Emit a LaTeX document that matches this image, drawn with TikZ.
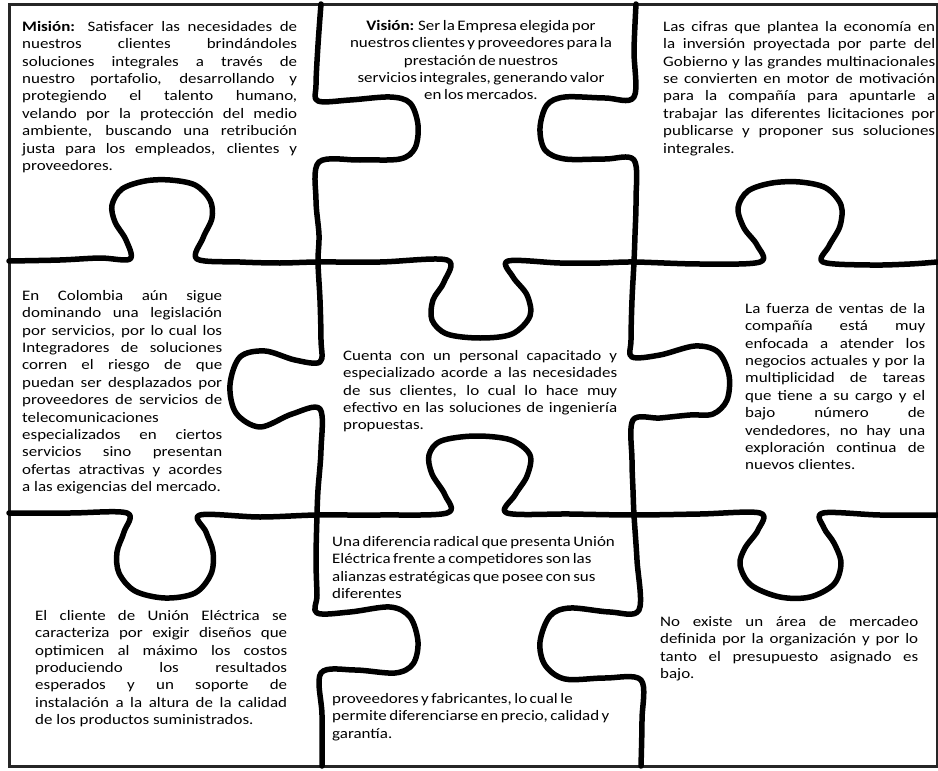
\documentclass[tikz,border=0pt]{standalone}
\usepackage{fontspec}
\usepackage{graphicx}
\setmainfont{Carlito}

% bloque de texto ensanchado (ancho final en px)
\newcommand{\bloque}[2]{\scalebox{1.17}[1]{\parbox[t]{\dimexpr #1pt*100/117\relax}{\tolerance=10000 \hbadness=10000 \hyphenpenalty=10000 #2}}}

\begin{document}
\begin{tikzpicture}[x=1pt, y=-1pt,
    linea/.style={line width=5.5pt, line cap=round, line join=round},
    marco/.style={line width=3pt, black!85},
    texto/.style={anchor=north west, inner sep=0pt, font=\fontsize{14.5}{17.4}\selectfont}]

    \fill[white] (0,0) rectangle (938,771);
    \useasboundingbox (0,0) rectangle (938,771);

    % marco exterior
    \draw[marco] (9,4) rectangle (937,766);

    % cortes verticales
    \draw[linea] plot[smooth, tension=0.55] coordinates {
        (321,4) (318,45) (316,85) (318,101) (350,100) (390,97) (410,103) (418,125) (415,148)
        (400,159) (360,160) (319,162) (316,200) (319,235) (318,262)
        (320,300) (321,340) (320,362) (295,360) (265,351) (240,357) (230,385) (236,413)
        (260,427) (292,414) (320,409) (321,450) (318,490) (317,515)
        (316,560) (317,595) (317,613) (350,612) (390,607) (410,617) (418,642) (413,664)
        (395,673) (355,670) (321,673) (322,715) (322,766)};
    \draw[linea] plot[smooth, tension=0.55] coordinates {
        (636,4) (634,50) (634,97) (605,98) (565,97) (547,105) (540,128) (545,150)
        (565,159) (605,159) (634,160) (636,200) (635,235) (634,262)
        (632,300) (631,340) (632,357) (660,355) (695,346) (718,352) (729,375) (727,400)
        (713,414) (690,415) (660,418) (633,420) (632,460) (633,490) (634,515)
        (637,560) (639,610) (610,612) (570,608) (550,616) (540,642) (545,665)
        (565,679) (605,678) (641,680) (642,720) (641,766)};

    % cortes horizontales
    \draw[linea] plot[smooth, tension=0.55] coordinates {
        (9,261) (60,260) (100,258) (130,259) (126,240) (115,222) (112,205) (122,189)
        (145,181) (170,180) (195,185) (210,200) (212,218) (203,238) (197,259)
        (240,262) (280,263) (318,262) (380,262) (447,260) (444,282) (433,300) (432,320)
        (447,334) (480,338) (512,334) (530,316) (527,295) (513,277) (508,261)
        (560,263) (600,263) (634,262) (700,264) (760,262) (757,245) (744,228) (738,208)
        (748,191) (772,183) (800,182) (826,188) (841,205) (840,226) (829,246) (823,262)
        (870,265) (910,264) (937,262)};
    \draw[linea] plot[smooth, tension=0.55] coordinates {
        (9,513) (70,513) (127,513) (124,532) (117,552) (119,573) (135,591) (165,598)
        (195,593) (211,574) (213,552) (206,532) (200,515) (260,517) (317,515)
        (380,515) (447,513) (445,495) (432,474) (429,455) (441,441) (475,436) (511,440)
        (530,455) (527,476) (515,495) (507,513) (570,514) (634,515)
        (700,514) (760,513) (758,530) (745,548) (740,565) (751,585) (780,597) (810,597)
        (834,584) (841,563) (834,543) (824,528) (823,513) (880,515) (937,515)};

    % textos de las piezas
    \node[texto] (mision) at (22,21) {\bloque{275}{\textbf{Misión:} Satisfacer las necesidades de\linebreak
        nuestros clientes brindándoles\linebreak soluciones integrales a través de\linebreak
        nuestro portafolio, desarrollando y\linebreak protegiendo el talento humano,\linebreak
        velando por la protección del medio\linebreak ambiente, buscando una retribución\linebreak
        justa para los empleados, clientes y\linebreak proveedores.}};

    \node[texto, anchor=north] (vision) at (481,20) {\bloque{270}{\centering\spaceskip=0.15em\relax
        \textbf{Visión:} Ser la Empresa elegida por\\ nuestros clientes y proveedores para la\\
        prestación de nuestros\\ servicios integrales, generando valor\\ en los mercados.}};

    \node[texto] (cifras) at (663,21) {\bloque{272}{Las cifras que plantea la economía en\linebreak
        la inversión proyectada por parte del\linebreak Gobierno y las grandes multinacionales\linebreak
        se convierten en motor de motivación\linebreak para la compañía para apuntarle a\linebreak
        trabajar las diferentes licitaciones por\linebreak publicarse y proponer sus soluciones\linebreak
        integrales.}};

    \node[texto] (colombia) at (22,290) {\bloque{200}{En Colombia aún sigue\linebreak
        dominando una legislación\linebreak por servicios, por lo cual los\linebreak
        Integradores de soluciones\linebreak corren el riesgo de que\linebreak
        puedan ser desplazados por\linebreak proveedores de servicios de\linebreak
        telecomunicaciones\newline especializados en ciertos\linebreak
        servicios sino presentan\linebreak ofertas atractivas y acordes\linebreak
        a las exigencias del mercado.}};

    \node[texto] (personal) at (343,350) {\bloque{274}{Cuenta con un personal capacitado y\linebreak
        especializado acorde a las necesidades\linebreak de sus clientes, lo cual lo hace muy\linebreak
        efectivo en las soluciones de ingeniería\linebreak propuestas.}};

    \node[texto] (ventas) at (745,303) {\bloque{180}{La fuerza de ventas de la\linebreak
        compañía está muy\linebreak enfocada a atender los\linebreak
        negocios actuales y por la\linebreak multiplicidad de tareas\linebreak
        que tiene a su cargo y el\linebreak bajo número de\linebreak
        vendedores, no hay una\linebreak exploración continua de\linebreak
        nuevos clientes.}};

    \node[texto] (cliente) at (35,610) {\bloque{252}{El cliente de Unión Eléctrica se\linebreak
        caracteriza por exigir diseños que\linebreak optimicen al máximo los costos\linebreak
        produciendo los resultados\linebreak esperados y un soporte de\linebreak
        instalación a la altura de la calidad\linebreak de los productos suministrados.}};

    \node[texto] (alianzas) at (332,536) {\bloque{291}{\raggedright\spaceskip=0.15em\relax
        Una diferencia radical que presenta Unión\\ Eléctrica frente a competidores son las\\
        alianzas estratégicas que posee con sus\\ diferentes}};

    \node[texto] (garantia) at (332,693) {\bloque{291}{\raggedright\spaceskip=0.15em\relax
        proveedores y fabricantes, lo cual le\\ permite diferenciarse en precio, calidad y\\
        garantía.}};

    \node[texto] (mercadeo) at (660,616) {\bloque{258}{No existe un área de mercadeo\linebreak
        definida por la organización y por lo\linebreak tanto el presupuesto asignado es\linebreak
        bajo.}};
\end{tikzpicture}
\end{document}
